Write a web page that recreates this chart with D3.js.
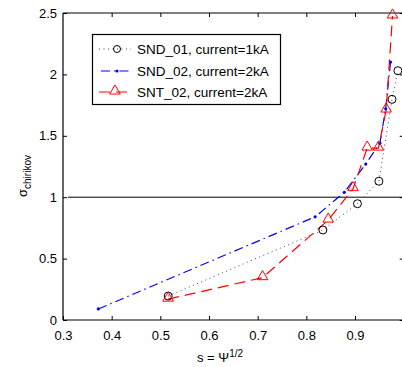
<!DOCTYPE html>
<html><head><meta charset="utf-8">
<script src="https://cdn.jsdelivr.net/npm/d3@7"></script>
<style>body{margin:0;background:#fff}svg{display:block}text{font-family:"Liberation Sans",Arial,sans-serif}</style>
</head><body><div id="chart"></div>
<script>
const xTicks=[0.3,0.4,0.5,0.6,0.7,0.8,0.9];
const yTicks=[0,0.5,1,1.5,2,2.5];
const seriesNames=["SND_01, current=1kA","SND_02, current=2kA","SNT_02, current=2kA"];
const snd01S=[0.516,0.834,0.905,0.949,0.976,0.988];
const snd01V=[0.195,0.733,0.947,1.13,1.797,2.03];
const snd02S=[0.3725,0.818,0.878,0.922,0.951,0.963,0.973];
const snd02V=[0.09,0.84,1.04,1.27,1.44,1.72,2.10];
const snt02S=[0.516,0.710,0.845,0.896,0.925,0.948,0.964,0.977];
const snt02V=[0.17,0.345,0.814,1.07,1.40,1.40,1.71,2.476];

const W=402,H=367;
const svg=d3.select("#chart").append("svg").attr("width",W).attr("height",H);
const x=d3.scaleLinear().domain([0.3,1.0]).range([63,403.7]);
const y=d3.scaleLinear().domain([0,2.5]).range([320,13]);

const g=svg.append("g");
// frame
g.append("line").attr("x1",x(0.3)).attr("x2",x(1)).attr("y1",y(0)).attr("y2",y(0)).attr("stroke","#000").attr("stroke-width",1.2);
g.append("line").attr("x1",x(0.3)).attr("x2",x(1)).attr("y1",y(2.5)).attr("y2",y(2.5)).attr("stroke","#000").attr("stroke-width",1.2);
g.append("line").attr("x1",x(0.3)).attr("x2",x(0.3)).attr("y1",y(0)).attr("y2",y(2.5)).attr("stroke","#000").attr("stroke-width",1.2);
g.append("line").attr("x1",x(1)).attr("x2",x(1)).attr("y1",y(0)).attr("y2",y(2.5)).attr("stroke","#000").attr("stroke-width",1.2);

// axes with inward ticks
const xb=g.append("g").attr("transform",`translate(0,${y(0)})`).call(d3.axisBottom(x).tickValues(xTicks).tickSize(-4).tickPadding(8).tickFormat(d3.format("")));
const xt=g.append("g").attr("transform",`translate(0,${y(2.5)})`).call(d3.axisTop(x).tickValues(xTicks.slice(1)).tickSize(-4).tickFormat(""));
const yl=g.append("g").attr("transform",`translate(${x(0.3)},0)`).call(d3.axisLeft(y).tickValues(yTicks).tickSize(-4).tickPadding(6).tickFormat(d3.format("")));
const yr=g.append("g").attr("transform",`translate(${x(1)},0)`).call(d3.axisRight(y).tickValues(yTicks).tickSize(-4).tickFormat(""));
[xb,xt,yl,yr].forEach(a=>{a.select(".domain").remove();a.selectAll("line").attr("stroke","#000");a.selectAll("text").attr("font-size",13).attr("fill","#000").attr("font-family","Liberation Sans, Arial, sans-serif");});
xb.selectAll("text").attr("dy","0.9em");

// y=1 line
g.append("line").attr("x1",x(0.31)).attr("x2",x(1)).attr("y1",y(1)).attr("y2",y(1)).attr("stroke","#000").attr("stroke-width",1);

const line=d3.line().x(d=>x(d[0])).y(d=>y(d[1]));
const zip=(a,b)=>a.map((v,i)=>[v,b[i]]);
const d1=zip(snd01S,snd01V), d2=zip(snd02S,snd02V), d3_=zip(snt02S,snt02V);

g.append("path").datum(d1).attr("d",line).attr("fill","none").attr("stroke","#444").attr("stroke-width",1).attr("stroke-dasharray","1,3.5");
g.append("path").datum(d2).attr("d",line).attr("fill","none").attr("stroke","#0000ff").attr("stroke-width",1.2).attr("stroke-dasharray","9,4,1.5,4");
g.append("path").datum(d3_).attr("d",line).attr("fill","none").attr("stroke","#ff0000").attr("stroke-width",1.2).attr("stroke-dasharray","11,6");

const tri=d3.symbol().type(d3.symbolTriangle).size(48);
g.selectAll(".c").data(d1).join("circle").attr("cx",d=>x(d[0])).attr("cy",d=>y(d[1])).attr("r",4).attr("fill","none").attr("stroke","#000").attr("stroke-width",1);
g.selectAll(".b").data(d2).join("circle").attr("cx",d=>x(d[0])).attr("cy",d=>y(d[1])).attr("r",1.6).attr("fill","#0000ff");
g.selectAll(".t").data(d3_).join("path").attr("d",tri).attr("transform",d=>`translate(${x(d[0])},${y(d[1])-1})`).attr("fill","none").attr("stroke","#ff0000").attr("stroke-width",1);

// legend
const lg=svg.append("g");
lg.append("rect").attr("x",92.5).attr("y",34.5).attr("width",188).attr("height",70).attr("fill","#fff").attr("stroke","#000").attr("stroke-width",1.2);
const rows=[49,71,92];
const dash=["1,3.5","9,4,1.5,4","11,6"];
const cols=["#444","#0000ff","#ff0000"];
rows.forEach((ry,i)=>{
  lg.append("line").attr("x1",99).attr("x2",131).attr("y1",ry).attr("y2",ry).attr("stroke",cols[i]).attr("stroke-width",1.2).attr("stroke-dasharray",dash[i]).attr("stroke-dashoffset",i===1?-2:0);
  if(i===0) lg.append("circle").attr("cx",117).attr("cy",ry).attr("r",3.5).attr("fill","none").attr("stroke","#000");
  if(i===1) lg.append("circle").attr("cx",117).attr("cy",ry).attr("r",1.5).attr("fill","#0000ff");
  if(i===2) lg.append("path").attr("d",tri).attr("transform",`translate(115,${ry-1})`).attr("fill","none").attr("stroke","#ff0000");
  lg.append("text").attr("x",137).attr("y",ry).attr("dy","0.35em").attr("font-size",13.5).text(seriesNames[i]);
});

// axis titles
const xtitle=svg.append("text").attr("x",220).attr("y",362).attr("text-anchor","middle").attr("font-size",13);
xtitle.append("tspan").text("s = Ψ");
xtitle.append("tspan").attr("dy",-5).attr("font-size",10).text("1/2");
const ytitle=svg.append("text").attr("transform","translate(27,176) rotate(-90)").attr("text-anchor","middle").attr("font-size",13);
ytitle.append("tspan").text("σ");
ytitle.append("tspan").attr("dy",4).attr("font-size",10).text("chirikov");
</script></body></html>
